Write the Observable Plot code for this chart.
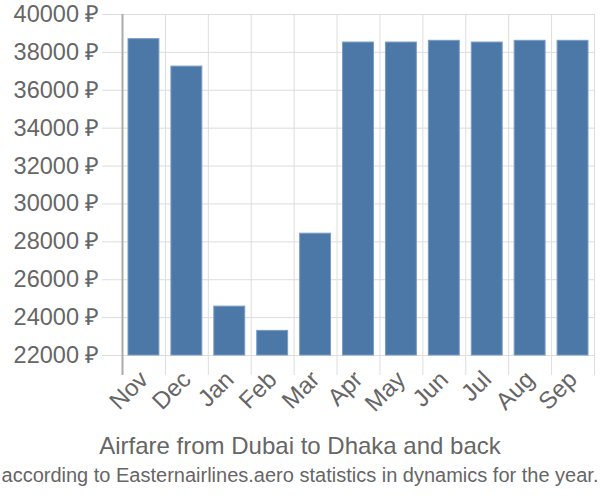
<!DOCTYPE html>
<html>
<head>
<meta charset="utf-8">
<script src="https://cdn.jsdelivr.net/npm/d3@7"></script>
<script src="https://cdn.jsdelivr.net/npm/@observablehq/plot@0.6"></script>
<style>
  html, body { margin: 0; padding: 0; background: #fff; }
  #chart svg { display: block; }
  .title { font-family: "Liberation Sans", Arial, sans-serif; color: #666; text-align: center; white-space: nowrap; }
  #t1 { font-size: 24px; margin-top: 12px; line-height: 28px; }
  #t2 { font-size: 20px; margin-top: 3px; line-height: 24px; }
</style>
</head>
<body>
<div id="chart"></div>
<div class="title" id="t1">Airfare from Dubai to Dhaka and back</div>
<div class="title" id="t2">according to Easternairlines.aero statistics in dynamics for the year.</div>
<script>
const months = ["Nov", "Dec", "Jan", "Feb", "Mar", "Apr", "May", "Jun", "Jul", "Aug", "Sep"];
const prices = [38700, 37250, 24580, 23300, 28430, 38520, 38520, 38610, 38520, 38610, 38610];
const yTicks = [22000, 24000, 26000, 28000, 30000, 32000, 34000, 36000, 38000, 40000];

const data = months.map((m, i) => ({month: m, idx: i, price: prices[i]}));
const boundaries = d3.range(months.length + 1);
const centers = months.map((m, i) => i + 0.5);

const chart = Plot.plot({
  width: 600,
  height: 420,
  marginLeft: 122,
  marginRight: 6,
  marginTop: 14,
  marginBottom: 65,
  style: {fontFamily: "Liberation Sans, Arial, sans-serif", fontSize: "24px", color: "#666", background: "#fff"},
  x: {type: "linear", domain: [0, months.length]},
  y: {domain: [22000, 40000]},
  marks: [
    Plot.gridY(yTicks, {stroke: "#ddd", strokeOpacity: 1, strokeWidth: 1}),
    Plot.gridX(boundaries, {stroke: "#ddd", strokeOpacity: 1, strokeWidth: 1}),
    Plot.axisX(boundaries, {tickSize: 20, stroke: "#ddd", tickFormat: () => "", label: null}),
    Plot.axisY(yTicks, {tickSize: 20, stroke: "#ddd", tickPadding: 3, tickFormat: d => d + " ₽", label: null, fill: "#666", fontSize: 23.5}),
    Plot.rectY(data, {x1: "idx", x2: d => d.idx + 1, y1: 22000, y2: "price", insetLeft: 6, insetRight: 6, fill: "#4c78a8", stroke: "#7a9cc4", strokeWidth: 1}),
    Plot.axisX(centers, {tickSize: 0, tickPadding: 20, tickRotate: -45, tickFormat: d => months[Math.floor(d)], label: null, fill: "#666", fontSize: 24}),
    Plot.ruleX([0], {stroke: "#aaa", strokeWidth: 2}),
    Plot.axisX([0], {tickSize: 20, stroke: "#aaa", strokeWidth: 2, tickFormat: () => "", label: null})
  ]
});
document.getElementById("chart").appendChild(chart);
</script>
</body>
</html>
